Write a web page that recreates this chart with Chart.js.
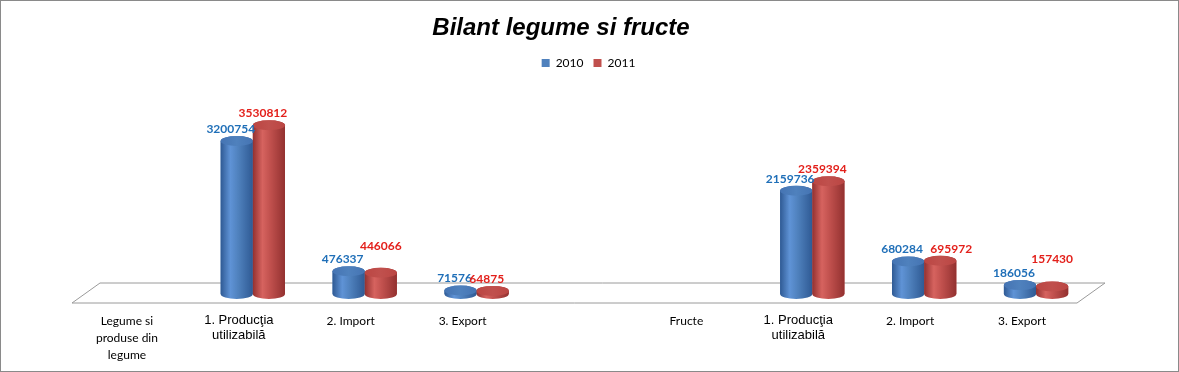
<!DOCTYPE html>
<html>
<head>
<meta charset="utf-8">
<script src="https://cdn.jsdelivr.net/npm/chart.js@4.4.0/dist/chart.umd.min.js"></script>
<style>
    html, body { margin: 0; padding: 0; background: #fff; }
    #wrap { position: relative; width: 1179px; height: 372px; box-sizing: border-box; border: 1px solid #8a8a8a; }
    #title { position: absolute; left: 0; top: 12px; width: 1120px; text-align: center;
             font: italic bold 24px "Liberation Sans", Arial, sans-serif; color: #000; }
    canvas { display: block; }
</style>
</head>
<body>
<div id="wrap">
    <canvas id="bilantChart" width="1177" height="370"></canvas>
    <div id="title">Bilant legume si fructe</div>
</div>
<script>
// categories (empty slot between the two groups)
const categories = [
    ['Legume si', 'produse din', 'legume'],
    ['1. Producţia', 'utilizabilă'],
    '2. Import',
    '3. Export',
    '',
    'Fructe',
    ['1. Producţia', 'utilizabilă'],
    '2. Import',
    '3. Export'
];
const years = ['2010', '2011'];
const values2010 = [null, 3200754, 476337, 71576, null, null, 2159736, 680284, 186056];
const values2011 = [null, 3530812, 446066, 64875, null, null, 2359394, 695972, 157430];

// look of the cylinders and labels
const palettes = [
    { solid: '#4F81BD', edge: '#2f5a94', light: '#5f93d6', cap: '#4574b3', text: '#1f6fb8' },
    { solid: '#C0504D', edge: '#933130', light: '#d6635f', cap: '#bb4643', text: '#e3201b' }
];
// label nudges [dx, dy] where Excel moved them, per dataset -> index
const defaultShift = [-6, -12];
const labelShift = [{}, { 2: [0, -27], 7: [11, -12], 8: [0, -27] }];

const floorPlugin = {
    id: 'floor',
    beforeDatasetsDraw(chart) {
        const { left, right, bottom } = chart.chartArea;
        const ctx = chart.ctx;
        ctx.save();
        ctx.beginPath();
        ctx.moveTo(left - 13, bottom + 9);
        ctx.lineTo(right - 15, bottom + 9);
        ctx.lineTo(right + 13, bottom - 11);
        ctx.lineTo(left + 15, bottom - 11);
        ctx.closePath();
        ctx.fillStyle = '#ffffff';
        ctx.fill();
        ctx.strokeStyle = '#9a9a9a';
        ctx.lineWidth = 1;
        ctx.stroke();
        ctx.restore();
    }
};

const cylinderPlugin = {
    id: 'cylinders',
    afterDatasetsDraw(chart) {
        const ctx = chart.ctx;
        ctx.save();
        chart.data.datasets.forEach((ds, di) => {
            const meta = chart.getDatasetMeta(di);
            const pal = palettes[di];
            meta.data.forEach((bar, i) => {
                if (ds.data[i] == null) return;
                const p = bar.getProps(['x', 'y', 'base', 'width'], true);
                const rx = p.width / 2, ry = 5;
                const l = p.x - rx, r = p.x + rx;

                const g = ctx.createLinearGradient(l, 0, r, 0);
                g.addColorStop(0, pal.edge);
                g.addColorStop(0.3, pal.light);
                g.addColorStop(0.55, pal.solid);
                g.addColorStop(1, pal.edge);

                ctx.beginPath();
                ctx.moveTo(l, p.y);
                ctx.lineTo(l, p.base);
                ctx.ellipse(p.x, p.base, rx, ry, 0, Math.PI, 0, true);
                ctx.lineTo(r, p.y);
                ctx.ellipse(p.x, p.y, rx, ry, 0, 0, Math.PI, true);
                ctx.closePath();
                ctx.fillStyle = g;
                ctx.fill();

                // top cap
                const cg = ctx.createLinearGradient(l, 0, r, 0);
                cg.addColorStop(0, pal.cap);
                cg.addColorStop(0.5, pal.solid);
                cg.addColorStop(1, pal.cap);
                ctx.beginPath();
                ctx.ellipse(p.x, p.y, rx, ry, 0, 0, Math.PI * 2);
                ctx.fillStyle = cg;
                ctx.fill();
            });
        });

        // value labels
        ctx.font = 'bold 12px Lato, "DejaVu Sans", sans-serif';
        ctx.textAlign = 'center';
        ctx.textBaseline = 'middle';
        chart.data.datasets.forEach((ds, di) => {
            const meta = chart.getDatasetMeta(di);
            meta.data.forEach((bar, i) => {
                if (ds.data[i] == null) return;
                const s = labelShift[di][i] || defaultShift;
                ctx.fillStyle = palettes[di].text;
                ctx.fillText(String(ds.data[i]), bar.x + s[0], bar.y + s[1]);
            });
        });
        ctx.restore();
    }
};

const ctx = document.getElementById('bilantChart').getContext('2d');
new Chart(ctx, {
    type: 'bar',
    data: {
        labels: categories,
        datasets: [
            { label: years[0], data: values2010, backgroundColor: palettes[0].solid, borderWidth: 0 },
            { label: years[1], data: values2011, backgroundColor: palettes[1].solid, borderWidth: 0 }
        ]
    },
    options: {
        responsive: false,
        animation: false,
        layout: { padding: { left: 84, right: 86, top: 46, bottom: 0 } },
        datasets: { bar: { categoryPercentage: 0.575, barPercentage: 1 } },
        plugins: {
            title: { display: false },
            tooltip: { enabled: false },
            legend: {
                display: true,
                position: 'top',
                labels: {
                    boxWidth: 8,
                    boxHeight: 8,
                    padding: 10,
                    color: '#000',
                    font: { family: 'Lato, "DejaVu Sans", sans-serif', size: 12 }
                }
            }
        },
        scales: {
            x: {
                grid: { display: false },
                border: { display: false },
                afterFit: function(scale) { scale.height = 77; },
                ticks: {
                    autoSkip: false,
                    maxRotation: 0,
                    labelOffset: -14,
                    padding: 11,
                    color: '#000',
                    font: function(c) {
                        if (c.index === 1 || c.index === 6) {
                            return { family: '"Liberation Sans", Arial, sans-serif', size: 13, lineHeight: 1.15 };
                        }
                        return { family: 'Lato, "DejaVu Sans", sans-serif', size: 12, lineHeight: 1.4 };
                    }
                }
            },
            y: {
                display: false,
                min: 0,
                max: 4500000
            }
        }
    },
    plugins: [floorPlugin, cylinderPlugin]
});
</script>
</body>
</html>
